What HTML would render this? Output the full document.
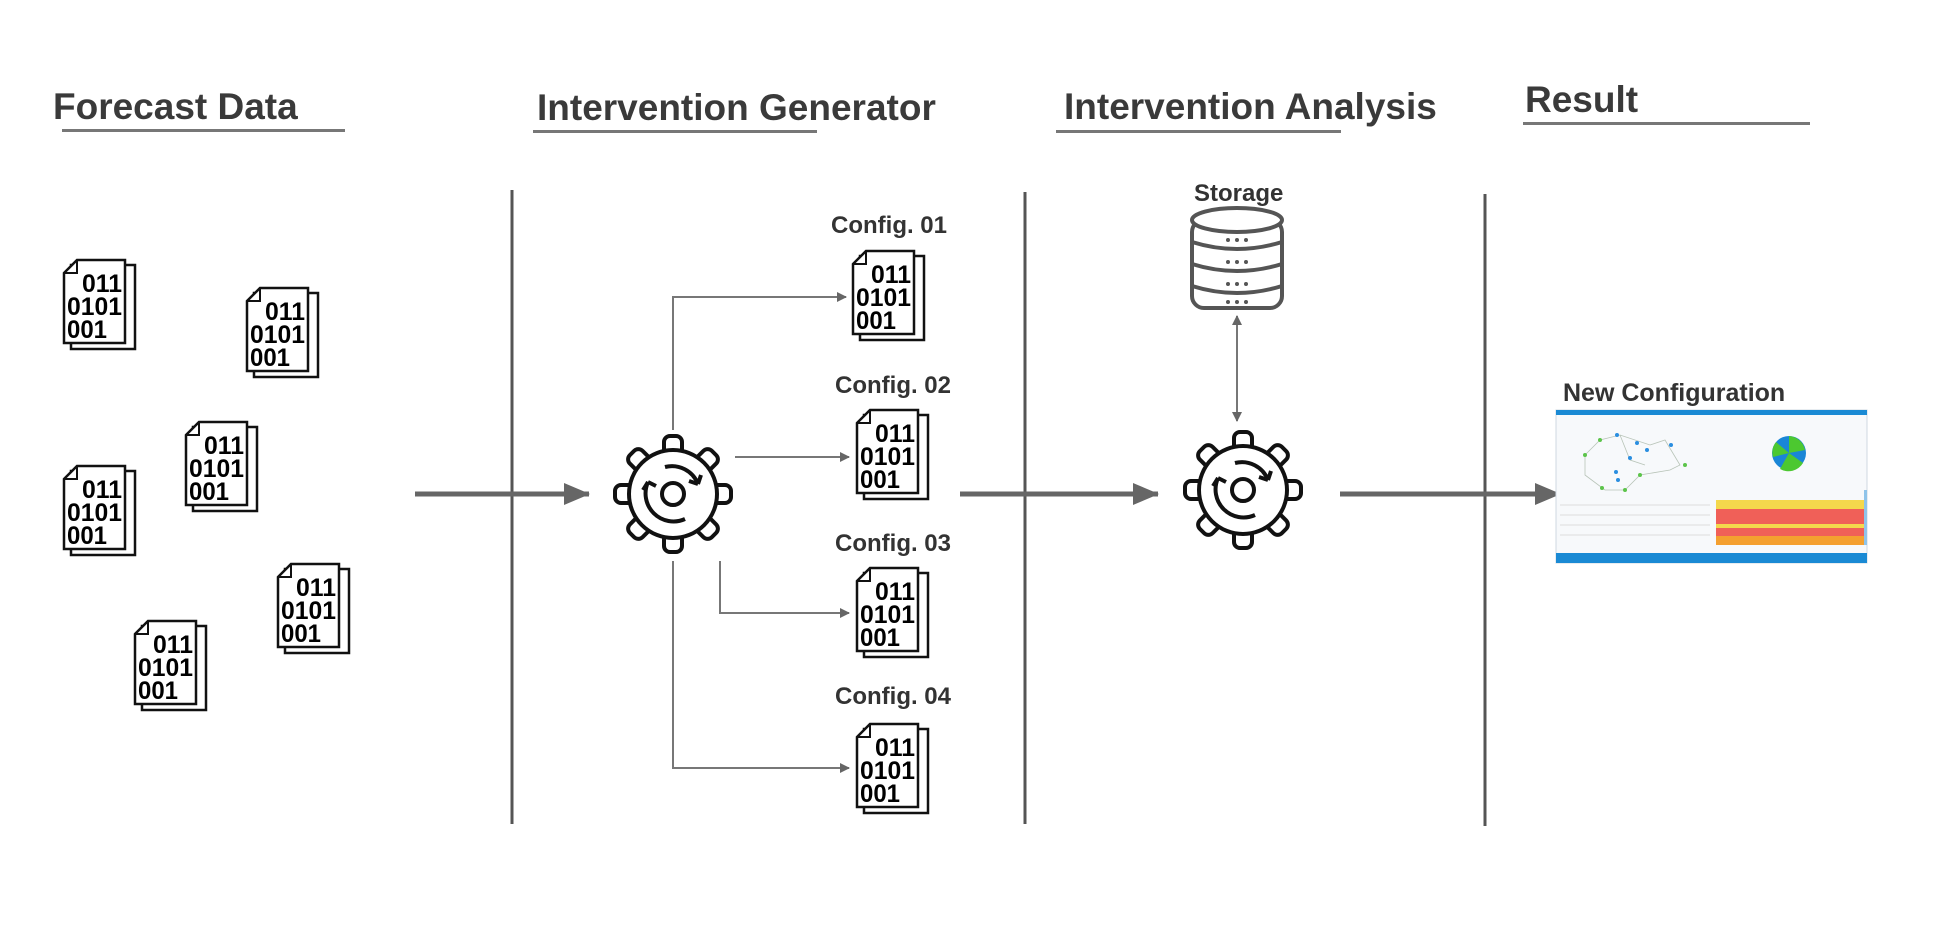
<!DOCTYPE html>
<html><head><meta charset="utf-8"><style>
body{margin:0;width:1943px;height:929px;background:#fff;position:relative;overflow:hidden;font-family:"Liberation Sans",sans-serif}
.h{position:absolute;font-weight:bold;color:#3a3a3a;font-size:37px;line-height:1}
.u{position:absolute;height:3px;background:#777}
.l{position:absolute;font-weight:bold;color:#333;font-size:24px;line-height:1}
</style></head><body>
<div class="h" style="left:53px;top:88px">Forecast Data</div>
<div class="u" style="left:62px;top:129px;width:283px"></div>
<div class="h" style="left:537px;top:89px">Intervention Generator</div>
<div class="u" style="left:533px;top:130px;width:284px"></div>
<div class="h" style="left:1064px;top:88px">Intervention Analysis</div>
<div class="u" style="left:1056px;top:130px;width:285px"></div>
<div class="h" style="left:1525px;top:81px">Result</div>
<div class="u" style="left:1523px;top:122px;width:287px"></div>

<div class="l" style="left:831px;top:214px">Config. 01</div>
<div class="l" style="left:835px;top:374px">Config. 02</div>
<div class="l" style="left:835px;top:532px">Config. 03</div>
<div class="l" style="left:835px;top:685px">Config. 04</div>
<div class="l" style="left:1194px;top:182px;font-size:24px">Storage</div>
<div class="l" style="left:1563px;top:381px;font-size:25px">New Configuration</div>

<svg width="1943" height="929" style="position:absolute;left:0;top:0">
<defs>
<marker id="sa" markerWidth="10" markerHeight="10" refX="9" refY="5" orient="auto" markerUnits="userSpaceOnUse"><path d="M0,0 L10,5 L0,10 Z" fill="#666"/></marker>
<marker id="sb" markerWidth="10" markerHeight="10" refX="1" refY="5" orient="auto" markerUnits="userSpaceOnUse"><path d="M10,0 L0,5 L10,10 Z" fill="#666"/></marker>
<marker id="ba" markerWidth="26" markerHeight="22" refX="25" refY="11" orient="auto" markerUnits="userSpaceOnUse"><path d="M0,0 L26,11 L0,22 Z" fill="#666"/></marker>
<g id="doc">
<rect x="9" y="7" width="64" height="84" fill="#fff" stroke="#111" stroke-width="2.5"/>
<path d="M15,2 H63 V85 H2 V15 Z" fill="#fff" stroke="#111" stroke-width="2.5"/>
<path d="M2,15 H15 V2" fill="none" stroke="#111" stroke-width="2"/>
<text x="20" y="34" font-family="Liberation Sans" font-size="25" font-weight="bold" textLength="40" lengthAdjust="spacingAndGlyphs">011</text>
<text x="5" y="57" font-family="Liberation Sans" font-size="25" font-weight="bold" textLength="55" lengthAdjust="spacingAndGlyphs">0101</text>
<text x="5" y="80" font-family="Liberation Sans" font-size="25" font-weight="bold" textLength="40" lengthAdjust="spacingAndGlyphs">001</text>
</g>
<g id="gear" stroke="#111" stroke-width="4" fill="#fff">
<g>
<rect x="-9" y="-58" width="18" height="30" rx="6" transform="rotate(0)"/>
<rect x="-9" y="-58" width="18" height="30" rx="6" transform="rotate(45)"/>
<rect x="-9" y="-58" width="18" height="30" rx="6" transform="rotate(90)"/>
<rect x="-9" y="-58" width="18" height="30" rx="6" transform="rotate(135)"/>
<rect x="-9" y="-58" width="18" height="30" rx="6" transform="rotate(180)"/>
<rect x="-9" y="-58" width="18" height="30" rx="6" transform="rotate(225)"/>
<rect x="-9" y="-58" width="18" height="30" rx="6" transform="rotate(270)"/>
<rect x="-9" y="-58" width="18" height="30" rx="6" transform="rotate(315)"/>
</g>
<circle r="44"/>
<circle r="11"/>
<path d="M-8,-27 A28,28 0 0 1 25,-10" fill="none"/>
<path d="M25,-10 l-9,-3 M25,-10 l3,-9" fill="none"/>
<path d="M-25,-12 A28,28 0 0 0 12,25" fill="none"/>
<path d="M-25,-12 l-5,8 M-25,-12 l8,4" fill="none"/>
</g>
</defs>
<g stroke="#555" stroke-width="3">
<line x1="512" y1="190" x2="512" y2="824"/>
<line x1="1025" y1="192" x2="1025" y2="824"/>
<line x1="1485" y1="194" x2="1485" y2="826"/>
</g>
<g stroke="#666" stroke-width="5" fill="none">
<line x1="415" y1="494" x2="589" y2="494" marker-end="url(#ba)"/>
<line x1="960" y1="494" x2="1158" y2="494" marker-end="url(#ba)"/>
<line x1="1340" y1="494" x2="1560" y2="494" marker-end="url(#ba)"/>
</g>
<g stroke="#777" stroke-width="2" fill="none">
<path d="M673,430 V297 H846" marker-end="url(#sa)"/>
<path d="M735,457 H849" marker-end="url(#sa)"/>
<path d="M720,561 V613 H849" marker-end="url(#sa)"/>
<path d="M673,561 V768 H849" marker-end="url(#sa)"/>
<path d="M1237,316 V421" marker-end="url(#sa)" marker-start="url(#sb)"/>
</g>
<use href="#gear" x="673" y="494"/>
<use href="#gear" x="1243" y="490"/>
<use href="#doc" x="851" y="249"/>
<use href="#doc" x="855" y="408"/>
<use href="#doc" x="855" y="566"/>
<use href="#doc" x="855" y="722"/>
<use href="#doc" x="62" y="258"/>
<use href="#doc" x="245" y="286"/>
<use href="#doc" x="184" y="420"/>
<use href="#doc" x="62" y="464"/>
<use href="#doc" x="276" y="562"/>
<use href="#doc" x="133" y="619"/>
<!-- storage -->
<g stroke="#555" stroke-width="4" fill="#fff">
<rect x="1192" y="220" width="90" height="88" rx="12"/>
<ellipse cx="1237" cy="220" rx="45" ry="12"/>
<path d="M1192,242 q45,14 90,0 M1192,264 q45,14 90,0 M1192,286 q45,14 90,0" fill="none"/>
</g>
<g fill="#555"><circle cx="1228" cy="240" r="2"/><circle cx="1237" cy="240" r="2"/><circle cx="1246" cy="240" r="2"/>
<circle cx="1228" cy="262" r="2"/><circle cx="1237" cy="262" r="2"/><circle cx="1246" cy="262" r="2"/>
<circle cx="1228" cy="284" r="2"/><circle cx="1237" cy="284" r="2"/><circle cx="1246" cy="284" r="2"/>
<circle cx="1228" cy="302" r="2"/><circle cx="1237" cy="302" r="2"/><circle cx="1246" cy="302" r="2"/></g>
<!-- screenshot -->
<rect x="1556" y="410" width="311" height="153" fill="#f7f9fb" stroke="#cfd8e0"/>
<rect x="1556" y="410" width="311" height="5" fill="#1a8ad4"/>
<rect x="1556" y="553" width="311" height="10" fill="#1a8ad4"/>
<g stroke="#b8c4b8" stroke-width="0.8" fill="none"><path d="M1585,455 L1600,440 L1620,435 L1650,445 L1665,440 L1680,465 L1670,470 L1640,475 L1625,490 L1605,490 L1585,475 Z M1620,435 L1630,460 L1645,465"/></g>
<g fill="#5cc44a"><circle cx="1585" cy="455" r="2"/><circle cx="1600" cy="440" r="2"/><circle cx="1640" cy="475" r="2"/><circle cx="1685" cy="465" r="2"/><circle cx="1625" cy="490" r="2"/><circle cx="1602" cy="488" r="2"/></g>
<g fill="#2a8ee0"><circle cx="1617" cy="435" r="2"/><circle cx="1637" cy="443" r="2"/><circle cx="1630" cy="458" r="2"/><circle cx="1647" cy="450" r="2"/><circle cx="1671" cy="445" r="2"/><circle cx="1616" cy="472" r="2"/><circle cx="1618" cy="480" r="2"/></g>
<circle cx="1789" cy="453" r="17" fill="#1a86d6"/>
<path d="M1789,453 L1789,436 A17,17 0 0 1 1805,450 Z M1789,453 L1803,463 A17,17 0 0 1 1780,469 Z M1789,453 L1773,457 A17,17 0 0 1 1776,442 Z" fill="#4cc830"/>
<g stroke="#ddd" stroke-width="1"><line x1="1560" y1="505" x2="1710" y2="505"/><line x1="1560" y1="515" x2="1710" y2="515"/><line x1="1560" y1="525" x2="1710" y2="525"/><line x1="1560" y1="535" x2="1710" y2="535"/></g>
<rect x="1716" y="500" width="148" height="9" fill="#f4d84c"/>
<rect x="1716" y="509" width="148" height="15" fill="#f06058"/>
<rect x="1716" y="524" width="148" height="4" fill="#f4d84c"/>
<rect x="1716" y="528" width="148" height="8" fill="#f06058"/>
<rect x="1716" y="536" width="148" height="9" fill="#f4a030"/>
<rect x="1864" y="490" width="3" height="55" fill="#8fc4ea"/>
</svg>
</body></html>
